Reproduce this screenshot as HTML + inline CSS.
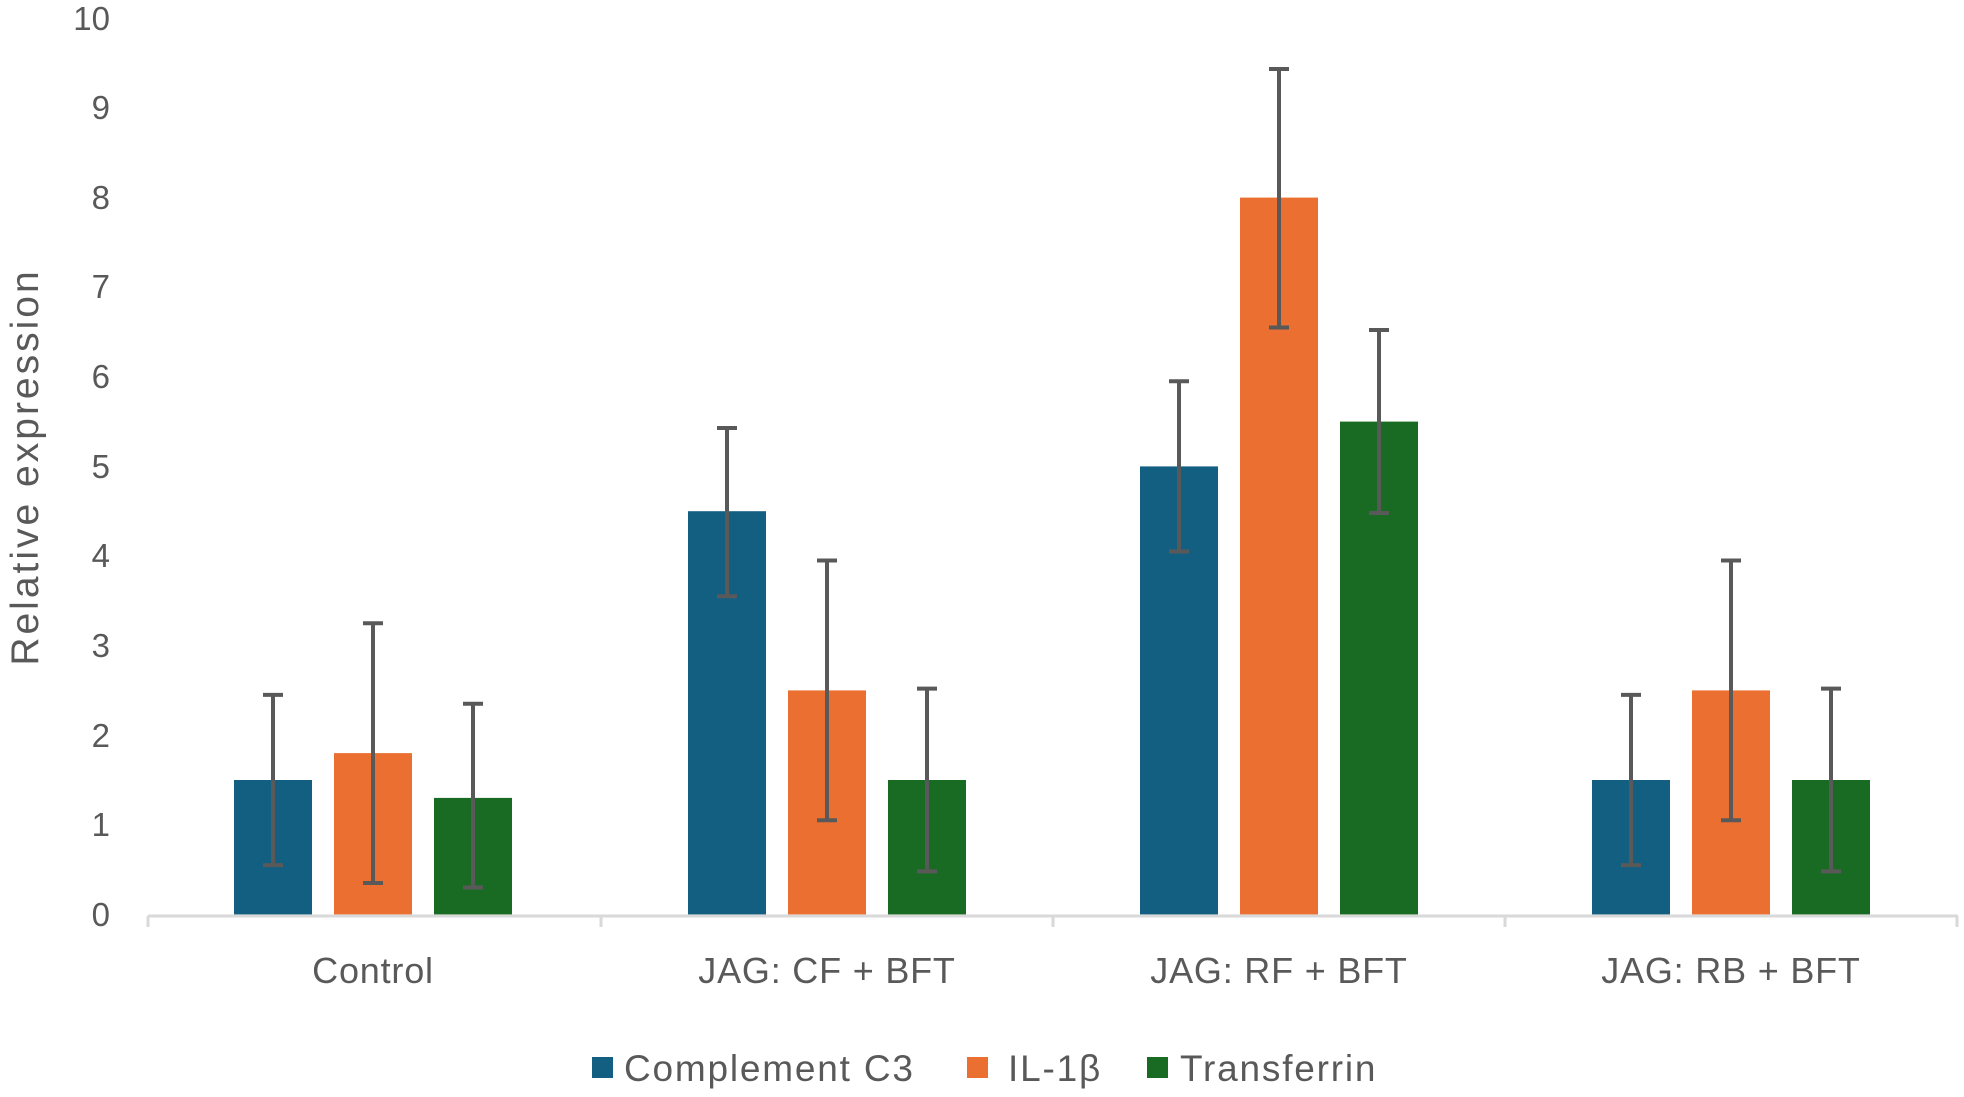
<!DOCTYPE html>
<html><head><meta charset="utf-8"><style>body{margin:0;background:#fff}</style></head><body>
<svg width="1964" height="1092" viewBox="0 0 1964 1092" xmlns="http://www.w3.org/2000/svg" font-family="Liberation Sans, sans-serif" fill="#595959">
<g font-size="33" text-anchor="end">
<text x="110" y="926">0</text><text x="110" y="836">1</text><text x="110" y="747">2</text><text x="110" y="657">3</text><text x="110" y="567">4</text><text x="110" y="478">5</text><text x="110" y="388">6</text><text x="110" y="298">7</text><text x="110" y="209">8</text><text x="110" y="119">9</text><text x="110" y="30">10</text>
</g>
<text transform="translate(38,467) rotate(-90)" font-size="39" letter-spacing="3" text-anchor="middle">Relative expression</text>
<g>
<rect x="234" y="780" width="78" height="134.4" fill="#135f82"/>
<rect x="334" y="753.1" width="78" height="161.3" fill="#ec6f32"/>
<rect x="434" y="797.9" width="78" height="116.5" fill="#196b23"/>
<rect x="688" y="511.2" width="78" height="403.2" fill="#135f82"/>
<rect x="788" y="690.4" width="78" height="224" fill="#ec6f32"/>
<rect x="888" y="780" width="78" height="134.4" fill="#196b23"/>
<rect x="1140" y="466.4" width="78" height="448" fill="#135f82"/>
<rect x="1240" y="197.6" width="78" height="716.8" fill="#ec6f32"/>
<rect x="1340" y="421.6" width="78" height="492.8" fill="#196b23"/>
<rect x="1592" y="780" width="78" height="134.4" fill="#135f82"/>
<rect x="1692" y="690.4" width="78" height="224" fill="#ec6f32"/>
<rect x="1792" y="780" width="78" height="134.4" fill="#196b23"/>
</g>
<path stroke="#595959" stroke-width="4" fill="none" d="
M273 694.9V865.1M263 694.9H283M263 865.1H283
M373 623.2V883M363 623.2H383M363 883H383
M473 703.8V887.5M463 703.8H483M463 887.5H483
M727 428V596.3M717 428H737M717 596.3H737
M827 560.5V820.3M817 560.5H837M817 820.3H837
M927 688.6V871.4M917 688.6H937M917 871.4H937
M1179 381.3V551.5M1169 381.3H1189M1169 551.5H1189
M1279 69V327.5M1269 69H1289M1269 327.5H1289
M1379 330V513M1369 330H1389M1369 513H1389
M1631 694.9V865.1M1621 694.9H1641M1621 865.1H1641
M1731 560.5V820.3M1721 560.5H1741M1721 820.3H1741
M1831 688.6V871.4M1821 688.6H1841M1821 871.4H1841"/>
<path d="M148 916H1958M148 916V927M601 916V927M1053 916V927M1505 916V927M1957 916V927" stroke="#d9d9d9" stroke-width="3" fill="none"/>
<g font-size="36" letter-spacing="0.8" text-anchor="middle">
<text x="373" y="983">Control</text><text x="827" y="983">JAG: CF + BFT</text><text x="1279" y="983">JAG: RF + BFT</text><text x="1731" y="983">JAG: RB + BFT</text>
</g>
<g font-size="37" letter-spacing="1.8">
<rect x="592" y="1057" width="21" height="21" fill="#135f82"/><text x="624" y="1081">Complement C3</text>
<rect x="967" y="1057" width="21" height="21" fill="#ec6f32"/><text x="1008" y="1081">IL-1β</text>
<rect x="1147" y="1057" width="21" height="21" fill="#196b23"/><text x="1180" y="1081">Transferrin</text>
</g>
</svg>
</body></html>
